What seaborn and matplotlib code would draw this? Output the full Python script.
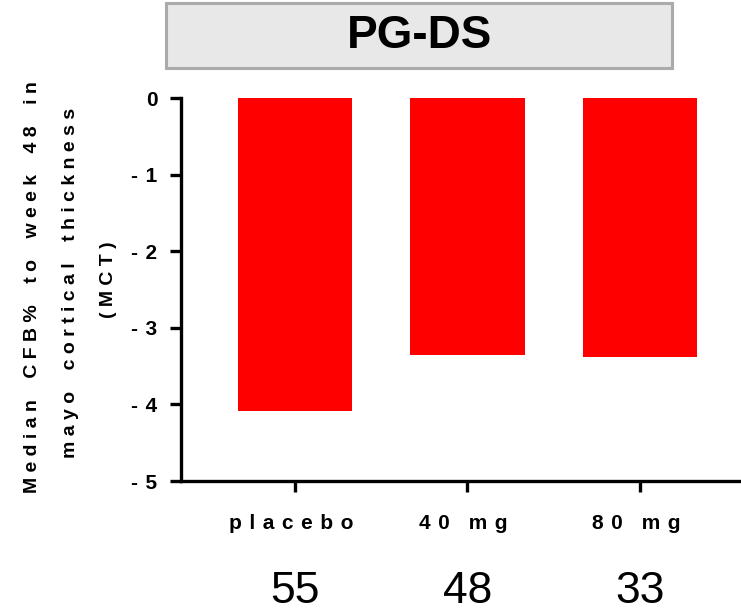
import matplotlib
matplotlib.use("Agg")
import matplotlib.pyplot as plt
import seaborn as sns
import pandas as pd
from matplotlib.patches import Rectangle

groups = ["placebo", "40 mg", "80 mg"]
median_cfb = [-4.08, -3.35, -3.38]
n_patients = ["55", "48", "33"]
y_ticks = [0, -1, -2, -3, -4, -5]
y_tick_labels = ["0", "- 1", "- 2", "- 3", "- 4", "- 5"]
title = "PG-DS"
ylabel_texts = ["Median CFB% to week 48 in", "mayo cortical thickness", "(MCT)"]


def spaced(text, sep, wsep, trail=""):
    return wsep.join(sep.join(list(w)) for w in text.split(" ")) + trail


HAIR = "\u200a"
group_labels = [spaced(g, " " + HAIR, "   " + HAIR, " " + HAIR) for g in groups]
ylabel_lines = [spaced(t, " ", "    ") for t in ylabel_texts]
ytick_text = [t.replace("- ", "- " + HAIR) for t in y_tick_labels]

sns.set_style("white")
plt.rcParams["font.family"] = ["Liberation Sans", "DejaVu Sans"]
plt.rcParams["text.color"] = "black"
plt.rcParams["xtick.color"] = "black"
plt.rcParams["ytick.color"] = "black"

df = pd.DataFrame({"group": groups, "value": median_cfb})

fig = plt.figure(figsize=(7.41, 6.11), dpi=100)
ax = fig.add_axes([181/741, 1-481/611, 1-181/741, (481-98)/611])
sns.barplot(data=df, x="group", y="value", color="#ff0000", saturation=1,
            width=0.665, ax=ax, edgecolor="none")
ax.set_xlim(-0.66, 2.585)
ax.set_ylim(-5, 0)
ax.set_yticks(y_ticks)
ax.set_yticklabels(ytick_text, fontsize=15, fontweight="bold")
ax.set_xticks(range(len(groups)))
ax.set_xticklabels(group_labels, fontsize=15, fontweight="bold")
ax.set_xlabel("")
ax.set_ylabel("")
for s in ["top", "right"]:
    ax.spines[s].set_visible(False)
for s in ["left", "bottom"]:
    ax.spines[s].set_linewidth(2.4)
    ax.spines[s].set_color("black")
ax.tick_params(axis="both", which="major", length=8, width=2.4,
               direction="out", left=True, bottom=True)
ax.tick_params(axis="y", pad=9)
ax.tick_params(axis="x", pad=16)

# y label lines (baseline x position, center y)
for xp, yc, line in zip([37, 75, 113], [287, 283, 280], ylabel_lines):
    fig.text(xp/741, 1-yc/611, line, rotation=90, ha="center", va="baseline",
             rotation_mode="anchor", fontsize=14, fontweight="bold")

# counts under categories
for i, n in enumerate(n_patients):
    ax.annotate(n, xy=(i, 0), xycoords=("data", "axes fraction"),
                xytext=(0, -(603-481)/1.389), textcoords="offset points",
                ha="center", va="baseline", fontsize=32, annotation_clip=False)

# title box
fig.patches.append(Rectangle((166/741, 1-68/611), 506/741, 65/611,
                             transform=fig.transFigure, facecolor="#e8e8e8",
                             edgecolor="#aaaaaa", linewidth=2.2))
fig.text(419/741, 1-36/611, title, ha="center", va="center",
         fontsize=33, fontweight="bold")

fig.savefig("out.png", dpi=100)
